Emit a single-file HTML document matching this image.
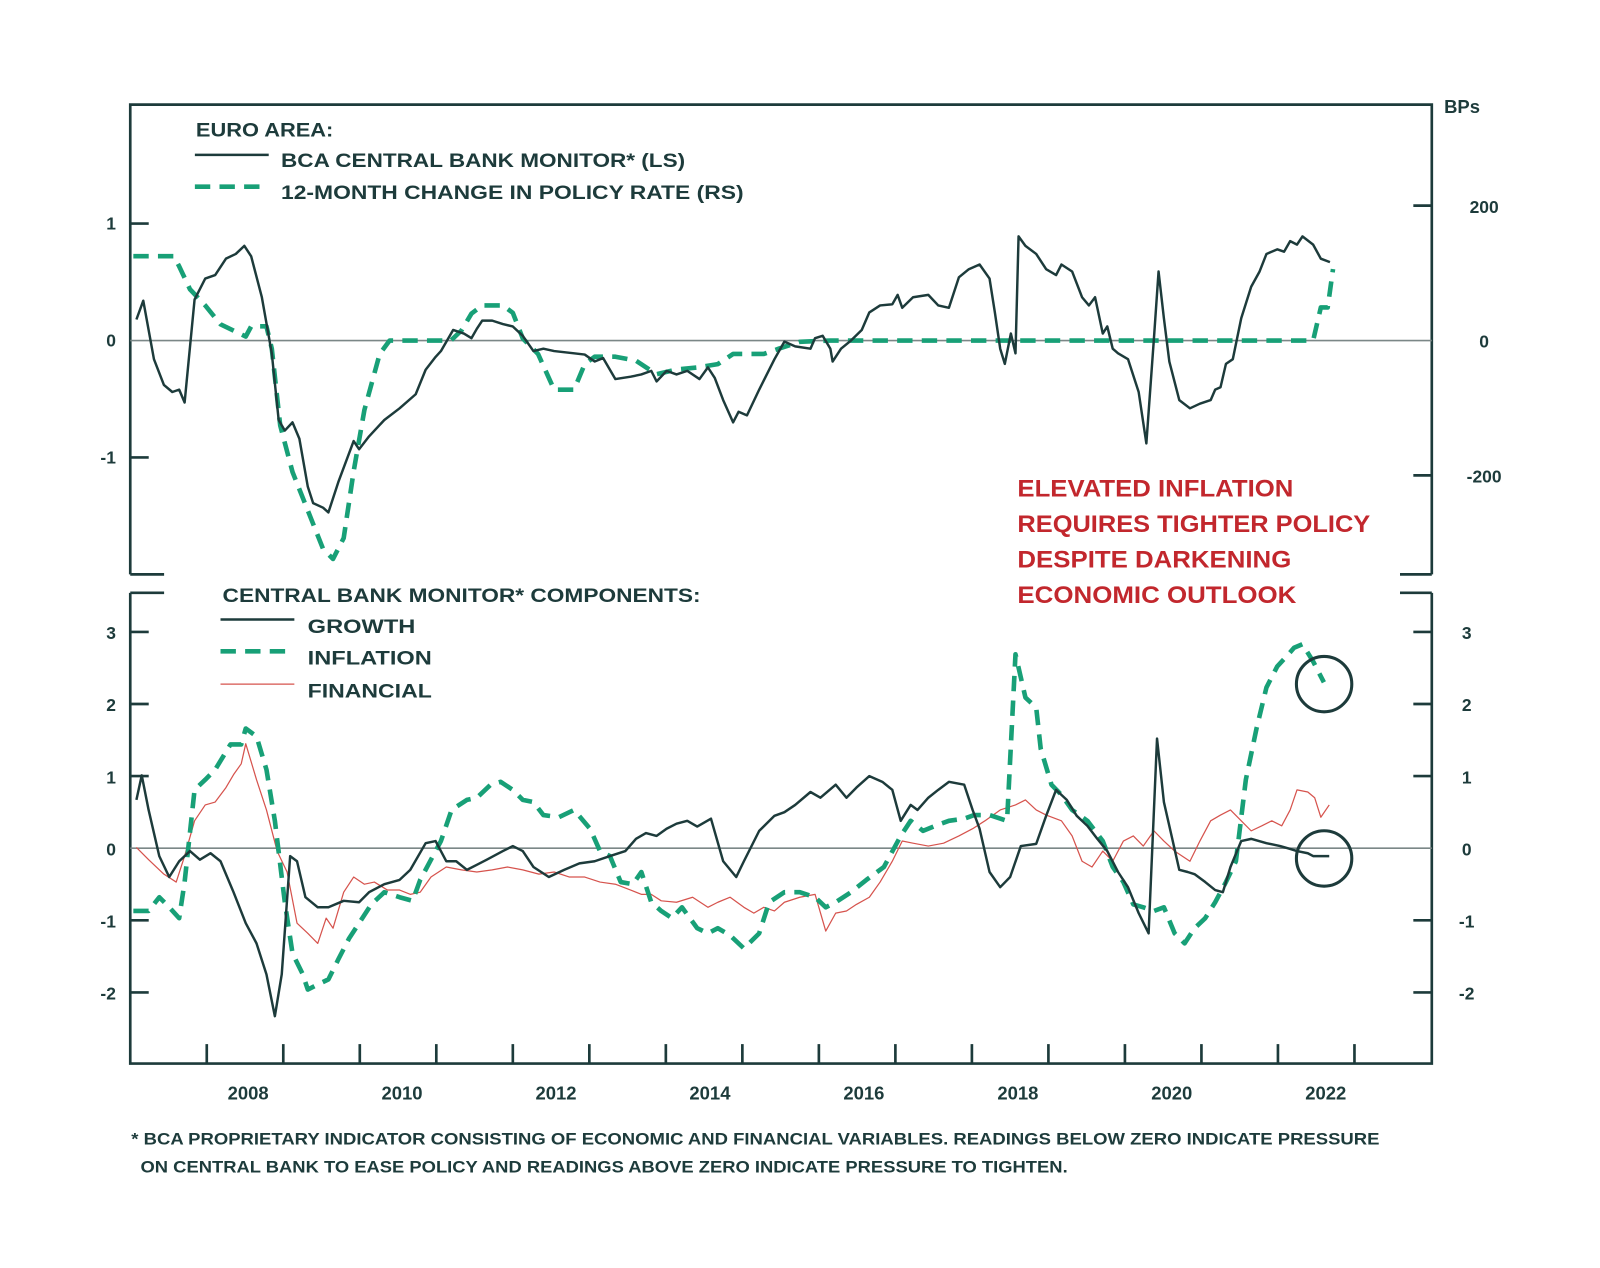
<!DOCTYPE html>
<html><head><meta charset="utf-8"><style>
html,body{margin:0;padding:0;background:#fff;}
svg{display:block;}
text{font-family:"Liberation Sans",sans-serif;font-weight:bold;fill:#1d3b3b;}
</style></head><body>
<svg id="chart" width="1600" height="1268" viewBox="0 0 1560 1236.3" xmlns="http://www.w3.org/2000/svg">
<g id="frame"></g>
<g id="series"></g>
<g id="labels"></g>
</svg>
<script>
// ---- data ----
const monitorDates=[2007.08,2007.17,2007.31,2007.44,2007.55,2007.64,2007.71,2007.84,2007.98,2008.11,2008.25,2008.38,2008.49,2008.58,2008.72,2008.85,2008.94,2009.02,2009.12,2009.21,2009.32,2009.39,2009.52,2009.59,2009.72,2009.92,2009.99,2010.12,2010.32,2010.52,2010.73,2010.86,2010.99,2011.06,2011.22,2011.36,2011.46,2011.53,2011.60,2011.73,2011.87,2012.00,2012.13,2012.27,2012.40,2012.54,2012.80,2012.94,2013.07,2013.18,2013.34,2013.54,2013.68,2013.81,2013.88,2014.01,2014.14,2014.28,2014.44,2014.55,2014.64,2014.75,2014.88,2014.95,2015.06,2015.22,2015.42,2015.55,2015.69,2015.89,2015.95,2016.05,2016.15,2016.18,2016.29,2016.42,2016.56,2016.66,2016.80,2016.96,2017.03,2017.09,2017.23,2017.43,2017.56,2017.70,2017.83,2017.96,2018.10,2018.23,2018.30,2018.37,2018.43,2018.51,2018.57,2018.61,2018.70,2018.84,2018.97,2019.10,2019.17,2019.31,2019.44,2019.53,2019.61,2019.71,2019.77,2019.84,2019.91,2020.04,2020.18,2020.28,2020.38,2020.44,2020.51,2020.58,2020.71,2020.85,2020.98,2021.12,2021.18,2021.25,2021.32,2021.41,2021.52,2021.65,2021.76,2021.85,2021.99,2022.08,2022.16,2022.25,2022.32,2022.46,2022.56,2022.68];
const monitorValues=[0.18,0.34,-0.16,-0.38,-0.44,-0.42,-0.53,0.35,0.53,0.56,0.70,0.74,0.81,0.72,0.37,-0.11,-0.68,-0.77,-0.70,-0.84,-1.25,-1.39,-1.43,-1.47,-1.21,-0.86,-0.93,-0.82,-0.68,-0.58,-0.46,-0.25,-0.14,-0.09,0.09,0.06,0.02,0.10,0.17,0.17,0.14,0.12,0.04,-0.09,-0.07,-0.09,-0.11,-0.12,-0.18,-0.15,-0.33,-0.31,-0.29,-0.26,-0.35,-0.26,-0.29,-0.26,-0.33,-0.23,-0.32,-0.51,-0.70,-0.61,-0.64,-0.42,-0.16,-0.01,-0.05,-0.07,0.02,0.04,-0.07,-0.18,-0.07,0.00,0.09,0.24,0.30,0.31,0.39,0.28,0.37,0.39,0.30,0.28,0.54,0.61,0.65,0.53,0.24,-0.07,-0.20,0.06,-0.11,0.89,0.81,0.74,0.61,0.56,0.65,0.59,0.37,0.30,0.37,0.06,0.12,-0.07,-0.11,-0.16,-0.44,-0.88,0.02,0.59,0.19,-0.18,-0.51,-0.58,-0.54,-0.51,-0.42,-0.40,-0.20,-0.16,0.19,0.46,0.59,0.74,0.78,0.76,0.85,0.82,0.89,0.82,0.70,0.67];
const policyDates=[2007.04,2007.57,2007.64,2007.78,2007.98,2008.18,2008.51,2008.58,2008.78,2008.85,2008.96,2009.12,2009.32,2009.52,2009.65,2009.79,2009.92,2010.06,2010.26,2010.39,2011.19,2011.33,2011.46,2011.60,2011.87,2012.00,2012.13,2012.33,2012.54,2012.80,2012.94,2013.07,2013.34,2013.61,2013.88,2014.14,2014.41,2014.68,2014.88,2015.28,2015.48,2015.75,2016.15,2022.46,2022.56,2022.65,2022.72];
const policyValues=[125,125,110,76,52,24,6,21,21,-12,-126,-195,-252,-309,-324,-293,-194,-103,-20,0,0,15,40,52,52,41,3,-20,-73,-73,-35,-24,-24,-30,-50,-43,-40,-35,-20,-20,-12,-2,0,0,49,49,106];
const growthDates=[2007.08,2007.15,2007.24,2007.38,2007.51,2007.64,2007.78,2007.91,2008.05,2008.18,2008.35,2008.51,2008.65,2008.78,2008.89,2008.98,2009.09,2009.18,2009.29,2009.45,2009.59,2009.79,2009.99,2010.12,2010.32,2010.52,2010.66,2010.86,2010.99,2011.13,2011.26,2011.40,2011.53,2011.66,2011.87,2012.00,2012.13,2012.27,2012.47,2012.67,2012.87,2013.07,2013.27,2013.47,2013.61,2013.74,2013.88,2014.01,2014.14,2014.28,2014.41,2014.59,2014.75,2014.92,2015.02,2015.22,2015.42,2015.55,2015.69,2015.89,2016.02,2016.22,2016.36,2016.49,2016.66,2016.83,2016.96,2017.07,2017.20,2017.29,2017.43,2017.56,2017.70,2017.90,2018.01,2018.10,2018.23,2018.37,2018.50,2018.64,2018.84,2018.97,2019.10,2019.24,2019.37,2019.51,2019.64,2019.77,2019.91,2020.04,2020.18,2020.31,2020.42,2020.51,2020.61,2020.71,2020.82,2020.91,2021.05,2021.18,2021.28,2021.38,2021.52,2021.65,2021.85,2022.03,2022.16,2022.25,2022.39,2022.46,2022.67];
const growthValues=[0.67,1.01,0.53,-0.11,-0.40,-0.18,-0.04,-0.16,-0.07,-0.18,-0.61,-1.04,-1.32,-1.75,-2.33,-1.75,-0.11,-0.18,-0.68,-0.82,-0.82,-0.73,-0.75,-0.61,-0.50,-0.44,-0.30,0.07,0.10,-0.18,-0.18,-0.30,-0.23,-0.16,-0.04,0.03,-0.04,-0.26,-0.40,-0.30,-0.21,-0.18,-0.11,-0.04,0.13,0.21,0.17,0.27,0.34,0.38,0.30,0.41,-0.18,-0.40,-0.18,0.24,0.45,0.50,0.60,0.78,0.70,0.88,0.70,0.84,1.00,0.92,0.81,0.38,0.60,0.53,0.70,0.81,0.92,0.88,0.53,0.27,-0.33,-0.54,-0.40,0.03,0.06,0.45,0.81,0.67,0.45,0.31,0.13,-0.04,-0.33,-0.54,-0.90,-1.18,1.52,0.64,0.17,-0.30,-0.33,-0.36,-0.47,-0.58,-0.61,-0.26,0.10,0.13,0.07,0.03,-0.01,-0.04,-0.07,-0.11,-0.11];
const inflationDates=[2007.04,2007.24,2007.38,2007.51,2007.64,2007.71,2007.84,2007.98,2008.11,2008.31,2008.45,2008.51,2008.65,2008.78,2008.89,2009.02,2009.12,2009.25,2009.32,2009.45,2009.59,2009.72,2009.86,2009.99,2010.15,2010.32,2010.52,2010.69,2010.79,2010.93,2011.06,2011.20,2011.40,2011.53,2011.71,2011.84,2012.00,2012.13,2012.27,2012.40,2012.60,2012.80,2013.01,2013.14,2013.27,2013.41,2013.57,2013.68,2013.81,2013.94,2014.08,2014.21,2014.41,2014.55,2014.68,2014.84,2015.02,2015.22,2015.35,2015.55,2015.75,2015.95,2016.09,2016.22,2016.42,2016.62,2016.85,2017.07,2017.20,2017.36,2017.52,2017.70,2017.90,2018.03,2018.23,2018.46,2018.57,2018.70,2018.84,2018.90,2019.04,2019.17,2019.31,2019.51,2019.71,2019.84,2019.98,2020.11,2020.24,2020.38,2020.51,2020.65,2020.78,2020.91,2021.05,2021.18,2021.32,2021.45,2021.58,2021.72,2021.85,2021.99,2022.12,2022.21,2022.32,2022.46,2022.60];
const inflationValues=[-0.87,-0.87,-0.68,-0.82,-0.97,-0.47,0.81,0.95,1.09,1.44,1.44,1.66,1.55,1.09,0.38,-0.75,-1.46,-1.74,-1.96,-1.89,-1.82,-1.54,-1.25,-1.04,-0.78,-0.61,-0.68,-0.73,-0.44,-0.16,0.10,0.53,0.67,0.70,0.88,0.92,0.81,0.67,0.64,0.46,0.43,0.53,0.27,-0.04,-0.11,-0.47,-0.50,-0.33,-0.75,-0.87,-0.97,-0.82,-1.11,-1.18,-1.11,-1.21,-1.39,-1.18,-0.75,-0.61,-0.61,-0.68,-0.82,-0.75,-0.61,-0.44,-0.26,0.17,0.38,0.24,0.31,0.38,0.41,0.46,0.46,0.38,2.69,2.09,1.95,1.38,0.88,0.74,0.53,0.38,0.10,-0.26,-0.47,-0.78,-0.82,-0.87,-0.82,-1.18,-1.32,-1.11,-0.97,-0.75,-0.47,-0.18,0.95,1.66,2.23,2.52,2.67,2.78,2.83,2.59,2.30];
const financialDates=[2007.08,2007.24,2007.44,2007.60,2007.71,2007.84,2007.98,2008.11,2008.25,2008.35,2008.45,2008.51,2008.65,2008.78,2008.92,2009.05,2009.18,2009.32,2009.45,2009.56,2009.65,2009.79,2009.92,2010.06,2010.19,2010.36,2010.52,2010.66,2010.79,2010.93,2011.13,2011.33,2011.53,2011.73,2011.93,2012.13,2012.34,2012.54,2012.74,2012.94,2013.14,2013.34,2013.54,2013.68,2013.81,2013.94,2014.14,2014.35,2014.55,2014.68,2014.84,2015.02,2015.15,2015.28,2015.42,2015.55,2015.75,2015.95,2016.09,2016.22,2016.36,2016.49,2016.66,2016.80,2016.96,2017.09,2017.23,2017.43,2017.63,2017.83,2018.01,2018.17,2018.37,2018.57,2018.70,2018.84,2018.97,2019.17,2019.31,2019.44,2019.57,2019.71,2019.84,2019.98,2020.11,2020.24,2020.38,2020.51,2020.65,2020.85,2020.98,2021.12,2021.25,2021.38,2021.52,2021.65,2021.79,2021.92,2022.05,2022.16,2022.25,2022.39,2022.48,2022.56,2022.67];
const financialValues=[0.01,-0.16,-0.36,-0.47,-0.11,0.38,0.60,0.64,0.84,1.02,1.17,1.45,0.95,0.53,-0.04,-0.33,-1.04,-1.18,-1.32,-0.97,-1.11,-0.61,-0.40,-0.50,-0.47,-0.58,-0.58,-0.64,-0.61,-0.40,-0.26,-0.30,-0.33,-0.30,-0.26,-0.30,-0.36,-0.33,-0.40,-0.40,-0.47,-0.50,-0.58,-0.64,-0.64,-0.73,-0.75,-0.68,-0.82,-0.75,-0.68,-0.82,-0.90,-0.82,-0.87,-0.75,-0.68,-0.64,-1.15,-0.90,-0.87,-0.78,-0.68,-0.47,-0.18,0.10,0.07,0.03,0.07,0.17,0.27,0.38,0.53,0.60,0.67,0.53,0.46,0.38,0.17,-0.18,-0.26,-0.04,-0.18,0.10,0.17,0.03,0.24,0.10,-0.04,-0.18,0.10,0.38,0.46,0.53,0.38,0.24,0.31,0.38,0.31,0.53,0.81,0.78,0.70,0.43,0.60];
const yearTicks=[2008,2009,2010,2011,2012,2013,2014,2015,2016,2017,2018,2019,2020,2021,2022,2023];
const yearLabels=[2008,2010,2012,2014,2016,2018,2020,2022];
const topLeftTicks=[1,0,-1];
const topRightTicks=[200,0,-200];
const bottomTicks=[3,2,1,0,-1,-2];

// ---- axes ----
const L=127,R=1396;
const xs=t=>L+(t-2007)*74.6;
const yTop=v=>332-v*114;
const yTopR=v=>332-v*0.6575;
const yBot=v=>827-v*70.3;
const NS='http://www.w3.org/2000/svg';
const dark='#1d3b3b',green='#18a077',red='#d6534d';
function mk(parent,tag,attrs){const e=document.createElementNS(NS,tag);for(const k in attrs)e.setAttribute(k,attrs[k]);document.getElementById(parent).appendChild(e);return e;}
function ln(p,x1,y1,x2,y2,c,w){return mk(p,'line',{x1,y1,x2,y2,stroke:c,'stroke-width':w});}
function txt(p,x,y,s,size,anchor,fill,len){const e=mk(p,'text',{x,y,'font-size':size,'text-anchor':anchor||'start'});if(fill)e.style.fill=fill;if(len){e.setAttribute('textLength',len);e.setAttribute('lengthAdjust','spacingAndGlyphs');}e.textContent=s;return e;}

// frame
let e;
e=mk('frame','path',{d:`M${L} 560 V102 H${R} V560 M${L} 560 H160 M${R} 560 H1365 M${L} 578 V1037 H${R} V578 M${L} 578 H160 M${R} 578 H1365`,fill:'none',stroke:dark,'stroke-width':2.6});


e=ln('frame',L,332,R,332,'#7b8787',1.6);


e=ln('frame',L,827,R,827,'#7b8787',1.6);


topLeftTicks.forEach(v=>{if(v!==0){e=ln('frame',L,yTop(v),L+18,yTop(v),dark,2.6);}
 e=txt('labels',113,yTop(v)+6,String(v),17,'end');});
topRightTicks.forEach(v=>{if(v!==0){e=ln('frame',R-18,yTopR(v),R,yTopR(v),dark,2.6);}
 e=txt('labels',1447,yTopR(v)+7,String(v),17,'middle');});
bottomTicks.forEach(v=>{if(v!==0){e=ln('frame',L,yBot(v),L+18,yBot(v),dark,2.6);
 e=ln('frame',R-18,yBot(v),R,yBot(v),dark,2.6);}
 e=txt('labels',113,yBot(v)+7,String(v),17,'end');
 e=txt('labels',1430,yBot(v)+7,String(v),17,'middle');});
yearTicks.forEach(y=>{e=ln('frame',xs(y),1037,xs(y),1018,dark,2.6);});
yearLabels.forEach(y=>{e=txt('labels',xs(y+0.5)+3+(y-2008)*0.45,1072,String(y),18,'middle');});
e=txt('labels',1408,110,'BPs',18,'start');

// series
function path(dates,vals,yf,c,w,dash){const d=dates.map((t,i)=>(i?'L':'M')+xs(t).toFixed(1)+' '+yf(vals[i]).toFixed(1)).join(' ');
 const p=mk('series','path',{d,fill:'none',stroke:c,'stroke-width':w,'stroke-linejoin':'round'});if(dash)p.setAttribute('stroke-dasharray',dash);return p;}
e=path(financialDates,financialValues,yBot,red,1.2,null);


e=path(inflationDates,inflationValues,yBot,green,4.5,'15 9');


e=path(growthDates,growthValues,yBot,dark,2.4,null);


e=path(policyDates,policyValues,yTopR,green,4.5,'15 9');


e=path(monitorDates,monitorValues,yTop,dark,2.4,null);



// circles
e=mk('series','circle',{cx:1291,cy:667,r:27,fill:'none',stroke:dark,'stroke-width':3});


e=mk('series','circle',{cx:1291,cy:837,r:27,fill:'none',stroke:dark,'stroke-width':3});



// legends
e=txt('labels',191,133,'EURO AREA:',19,'start',null,134);
e=ln('labels',190,151,262,151,dark,2.4);
e=txt('labels',274,163,'BCA CENTRAL BANK MONITOR* (LS)',19,'start',null,394);
e=mk('labels','line',{x1:190,y1:182,x2:262,y2:182,stroke:green,'stroke-width':4.5,'stroke-dasharray':'15 9'});
e=txt('labels',274,194,'12-MONTH CHANGE IN POLICY RATE (RS)',19,'start',null,451);
e=txt('labels',217,587,'CENTRAL BANK MONITOR* COMPONENTS:',19,'start',null,466);
e=ln('labels',215,604,287,604,dark,2.4);
e=txt('labels',300,617,'GROWTH',19,'start',null,105);
e=mk('labels','line',{x1:215,y1:635,x2:287,y2:635,stroke:green,'stroke-width':4.5,'stroke-dasharray':'15 9'});
e=txt('labels',300,648,'INFLATION',19,'start',null,121);
e=ln('labels',215,667,287,667,red,1.2);
e=txt('labels',300,680,'FINANCIAL',19,'start',null,121);

// annotation
const annLines=['ELEVATED INFLATION','REQUIRES TIGHTER POLICY','DESPITE DARKENING','ECONOMIC OUTLOOK'];
const annLens=[269,344,267,272];
annLines.forEach((s,i)=>{
 e=txt('labels',992,484+i*34.7,s,23,'start','#c2272d',annLens[i]);});

// footnote
e=txt('labels',128,1116,'* BCA PROPRIETARY INDICATOR CONSISTING OF ECONOMIC AND FINANCIAL VARIABLES. READINGS BELOW ZERO INDICATE PRESSURE',16,'start',null,1217);


e=txt('labels',137,1143,'ON CENTRAL BANK TO EASE POLICY AND READINGS ABOVE ZERO INDICATE PRESSURE TO TIGHTEN.',16,'start',null,904);


</script>
</body></html>
